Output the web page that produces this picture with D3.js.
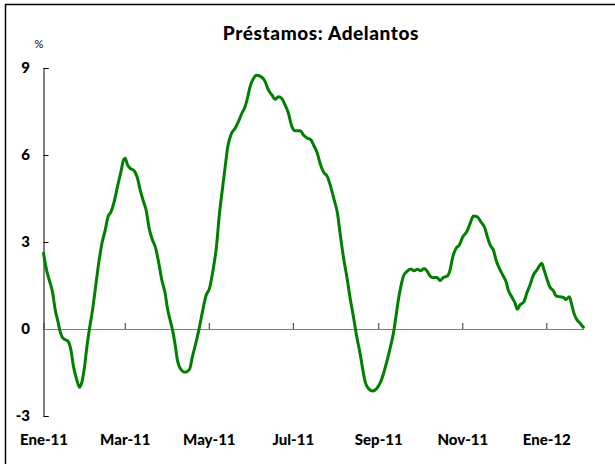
<!DOCTYPE html>
<html>
<head>
<meta charset="utf-8">
<script src="https://cdn.jsdelivr.net/npm/d3@7"></script>
<style>
  html, body { margin: 0; padding: 0; background: #fff; }
  svg { display: block; }
  text { font-family: Lato, "Open Sans", sans-serif; }
</style>
</head>
<body>
<svg id="chart" width="615" height="464"></svg>
<script>
// ---- Data ----
const title = "Préstamos: Adelantos";
const unitLabel = "%";
const startDate = "2011-01-01";
const endDate = "2012-01-28";
// day offsets from startDate
const days = [0.0,2.5,4.9,6.5,8.5,10.5,12.1,13.8,16.3,18.1,19.9,21.8,24.2,26.1,27.9,29.8,31.5,33.4,35.6,37.5,
  39.9,42.4,44.8,46.7,49.1,51.3,53.7,56.2,58.1,59.3,61.0,62.9,65.8,68.2,70.2,72.6,74.5,76.7,79.1,81.1,
  83.5,85.9,88.3,90.0,91.9,93.9,95.6,97.2,99.7,102.8,106.0,108.1,110.6,113.0,115.4,118.1,120.5,122.9,125.8,127.5,
  129.5,131.9,133.8,136.0,139.1,141.5,144.0,146.4,148.0,150.0,152.4,154.8,158.5,160.9,163.3,165.8,168.1,170.5,173.0,175.4,
  177.8,180.3,182.7,186.3,188.7,191.6,194.1,196.4,198.4,200.8,203.2,206.1,208.1,211.0,213.4,215.3,217.7,220.2,222.6,225.0,
  227.4,229.8,231.8,233.5,235.9,239.0,241.9,244.3,246.7,249.2,251.6,254.0,256.0,257.6,259.4,261.3,263.7,266.6,269.0,271.4,
  273.9,276.3,278.7,280.6,283.0,285.5,287.9,290.3,293.2,295.1,297.1,299.5,301.9,304.4,307.3,309.7,312.1,315.0,317.4,320.5,
  322.2,324.2,326.6,328.5,330.9,333.4,335.8,337.4,339.9,342.3,344.0,345.9,348.8,350.8,353.2,355.6,358.1,359.9,361.7,363.4,
  365.3,367.7,370.1,372.1,375.0,377.4,379.3,381.7,383.5,385.1,387.1,389.5,391.9];
const values = [2.61,1.98,1.57,1.29,0.66,0.25,-0.09,-0.30,-0.38,-0.44,-0.72,-1.30,-1.76,-2.01,-1.82,-1.30,-0.61,0.02,0.66,1.34,
  2.21,2.95,3.41,3.85,4.05,4.39,4.91,5.42,5.83,5.89,5.66,5.54,5.46,5.20,4.79,4.39,4.10,3.47,3.07,2.84,
  2.32,1.69,1.23,0.71,0.31,-0.09,-0.55,-1.07,-1.39,-1.49,-1.39,-0.95,-0.49,0.02,0.60,1.17,1.40,1.98,2.95,3.87,
  4.68,5.60,6.29,6.69,6.92,7.15,7.44,7.67,7.95,8.36,8.64,8.75,8.68,8.53,8.24,8.07,7.92,8.01,7.95,7.72,
  7.44,6.98,6.84,6.84,6.69,6.58,6.52,6.31,6.11,5.71,5.42,5.25,4.97,4.45,3.99,3.30,2.49,1.80,1.06,0.42,
  -0.27,-0.84,-1.41,-1.82,-2.05,-2.14,-2.05,-1.87,-1.56,-1.13,-0.67,-0.15,0.48,1.00,1.46,1.83,1.98,2.07,2.01,2.06,
  2.01,2.09,1.98,1.83,1.77,1.78,1.67,1.78,1.83,2.03,2.49,2.78,2.90,3.18,3.36,3.64,3.90,3.87,3.70,3.47,
  3.18,2.90,2.72,2.38,2.09,1.86,1.63,1.34,1.11,0.89,0.68,0.83,0.94,1.23,1.52,1.86,2.03,2.17,2.27,2.03,
  1.75,1.44,1.32,1.14,1.11,1.09,1.02,1.11,0.83,0.54,0.33,0.20,0.06];
const xTickDates = ["2011-01-01","2011-03-01","2011-05-01","2011-07-01","2011-09-01","2011-11-01","2012-01-01"];
const xTickLabels = ["Ene-11","Mar-11","May-11","Jul-11","Sep-11","Nov-11","Ene-12"];
const yTicks = [-3, 0, 3, 6, 9];

// ---- Drawing ----
const parse = d3.utcParse("%Y-%m-%d");
const t0 = parse(startDate);
const points = days.map((d, i) => ({ date: new Date(t0.getTime() + d * 864e5), value: values[i] }));

const svg = d3.select("#chart");

// frame (left and top edges visible)
svg.append("rect")
  .attr("x", 5.5).attr("y", 4.5)
  .attr("width", 700).attr("height", 600)
  .attr("fill", "none").attr("stroke", "#000").attr("stroke-width", 1.5);

const x = d3.scaleUtc().domain([parse(startDate), parse(endDate)]).range([43.5, 583.5]);
const y = d3.scaleLinear().domain([-3, 9]).range([416, 68]);

// title
svg.append("text")
  .attr("x", 321).attr("y", 40)
  .attr("text-anchor", "middle")
  .attr("font-size", 19).attr("font-weight", 900)
  .attr("letter-spacing", 0.6)
  .attr("fill", "#000")
  .text(title);

// unit label
svg.append("text")
  .attr("x", 39).attr("y", 48)
  .attr("text-anchor", "middle")
  .attr("font-size", 11)
  .attr("fill", "#000")
  .text(unitLabel);

// y axis
const yAxis = d3.axisRight(y).tickValues(yTicks).tickSize(5).tickFormat(d => String(d));
const gy = svg.append("g").attr("transform", "translate(43.5,0)").call(yAxis);
gy.select(".domain").attr("stroke", "#000").attr("stroke-width", 1);
gy.selectAll(".tick line").attr("stroke", "#000");
gy.selectAll(".tick text")
  .attr("x", -13.5).attr("text-anchor", "end")
  .attr("font-size", 15).attr("font-weight", 900)
  .attr("font-family", "Lato, sans-serif").attr("fill", "#000");

// x axis at zero
const xAxis = d3.axisTop(x)
  .tickValues(xTickDates.map(parse))
  .tickSize(6)
  .tickSizeOuter(0)
  .tickFormat((d, i) => xTickLabels[i]);
const gx = svg.append("g").attr("transform", `translate(0,${y(0)})`).call(xAxis);
gx.select(".domain").attr("stroke", "#7f7f7f").attr("stroke-width", 1.2);
gx.selectAll(".tick line").attr("stroke", "#333");
gx.selectAll(".tick text")
  .attr("y", 116).attr("dy", 0)
  .attr("text-anchor", "middle")
  .attr("font-size", 15).attr("font-weight", 900)
  .attr("font-family", "Lato, sans-serif").attr("fill", "#000");

// series line
svg.append("path")
  .datum(points)
  .attr("fill", "none")
  .attr("stroke", "#008000")
  .attr("stroke-width", 3)
  .attr("stroke-linejoin", "round")
  .attr("stroke-linecap", "round")
  .attr("d", d3.line().x(d => x(d.date)).y(d => y(d.value)).curve(d3.curveMonotoneX));
</script>
</body>
</html>
